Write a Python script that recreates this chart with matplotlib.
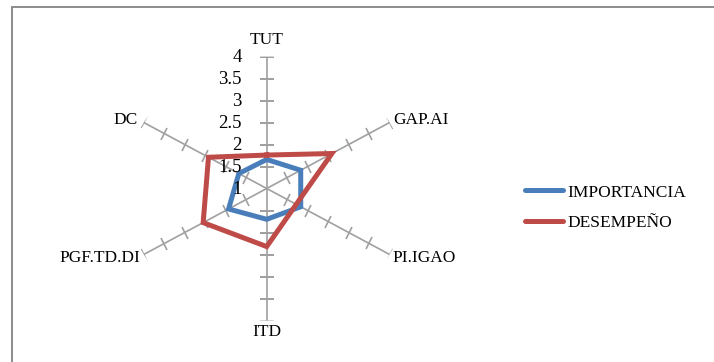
import numpy as np
import matplotlib
matplotlib.use("Agg")
import matplotlib.pyplot as plt
from matplotlib.markers import MarkerStyle
from matplotlib.transforms import Affine2D
from matplotlib.patches import Rectangle

# ---- data ----
categories = ["TUT", "GAP.AI", "PI.IGAO", "ITD", "PGF.TD.DI", "DC"]
importancia = [1.66, 1.83, 1.83, 1.70, 1.93, 1.68]
desempeno = [1.76, 2.59, 1.72, 2.32, 2.55, 2.42]
series_names = ["IMPORTANCIA", "DESEMPEÑO"]
r_ticks = [1, 1.5, 2, 2.5, 3, 3.5, 4]
r_tick_labels = ["1", "1.5", "2", "2.5", "3", "3.5", "4"]

BLUE = "#4A7EBB"
RED = "#BE4B48"
GRID = "#A0A0A0"
SERIF = ["Liberation Serif", "DejaVu Serif"]

W, H = 714, 362
fig = plt.figure(figsize=(W / 100, H / 100), dpi=100)
fig.patch.set_facecolor("white")

# axes box (pixels)
cx, cy = 266.7, 188.5
Rx, Ry = 142.0, 132.0
ax = fig.add_axes([(cx - Rx) / W, (H - cy - Ry) / H, 2 * Rx / W, 2 * Ry / H],
                  projection="polar")
ax.set_aspect("auto")
ax.set_theta_offset(np.pi / 2)
ax.set_theta_direction(-1)
ax.set_ylim(r_ticks[0], r_ticks[-1])
ax.grid(False)
ax.spines["polar"].set_visible(False)
ax.set_xticks([])
ax.set_yticks([])
ax.patch.set_alpha(0)

n = len(categories)
thetas = np.arange(n) * 2 * np.pi / n

# spokes with perpendicular tick marks
for t in thetas:
    ax.plot([t, t], [r_ticks[0], r_ticks[-1]], color=GRID, lw=1.2, zorder=1,
            solid_capstyle="butt")
    phi = np.degrees(np.arctan2(np.cos(t) * Ry, np.sin(t) * Rx))
    m = MarkerStyle("_", transform=Affine2D().rotate_deg(phi + 90))
    ax.plot([t] * (len(r_ticks) - 1), r_ticks[1:], linestyle="none",
            marker=m, markersize=10, markeredgecolor=GRID, markeredgewidth=1.2,
            zorder=1)

# series
closed_t = np.append(thetas, thetas[0])
l1, = ax.plot(closed_t, importancia + importancia[:1], color=BLUE, lw=3.6,
              solid_joinstyle="miter", zorder=3, label=series_names[0])
l2, = ax.plot(closed_t, desempeno + desempeno[:1], color=RED, lw=3.6,
              solid_joinstyle="miter", zorder=4, label=series_names[1])
for ln in (l1, l2):
    ln.set_clip_on(False)

# radial tick labels along the TUT axis
for v, lab in zip(r_ticks, r_tick_labels):
    ax.annotate(lab, xy=(0, v), xytext=(-25, -1), textcoords="offset pixels",
                ha="right", va="center", fontsize=13.5, family=SERIF,
                annotation_clip=False)

# category labels
offsets = [(0, 16, "center", "center"),
           (4, 3, "left", "center"),
           (3, -3, "left", "center"),
           (0, -12, "center", "center"),
           (-3, -3, "right", "center"),
           (-6, 2, "right", "center")]
for t, lab, (dx, dy, ha, va) in zip(thetas, categories, offsets):
    ax.annotate(lab, xy=(t, r_ticks[-1]), xytext=(dx, dy),
                textcoords="offset pixels", ha=ha, va=va, fontsize=12.5,
                family=SERIF, annotation_clip=False)

# legend
leg = fig.legend(handles=[l1, l2], labels=series_names, loc="center left",
                 bbox_to_anchor=(524.5 / W, 1 - 207.5 / H),
                 bbox_transform=fig.transFigure, frameon=False, borderpad=0,
                 borderaxespad=0, handlelength=2.2, handletextpad=0.26,
                 labelspacing=0.8, prop={"family": SERIF, "size": 12.5})
for h in leg.get_lines():
    h.set_solid_capstyle("round")

# chart area border (top and left visible)
fig.add_artist(Rectangle((12 / W, -0.2), 1.2, 1.2 - 7 / H, fill=False,
                         edgecolor="#8C8C8C", lw=1.4,
                         transform=fig.transFigure, clip_on=False))

fig.savefig("out.png", dpi=100, facecolor="white")
